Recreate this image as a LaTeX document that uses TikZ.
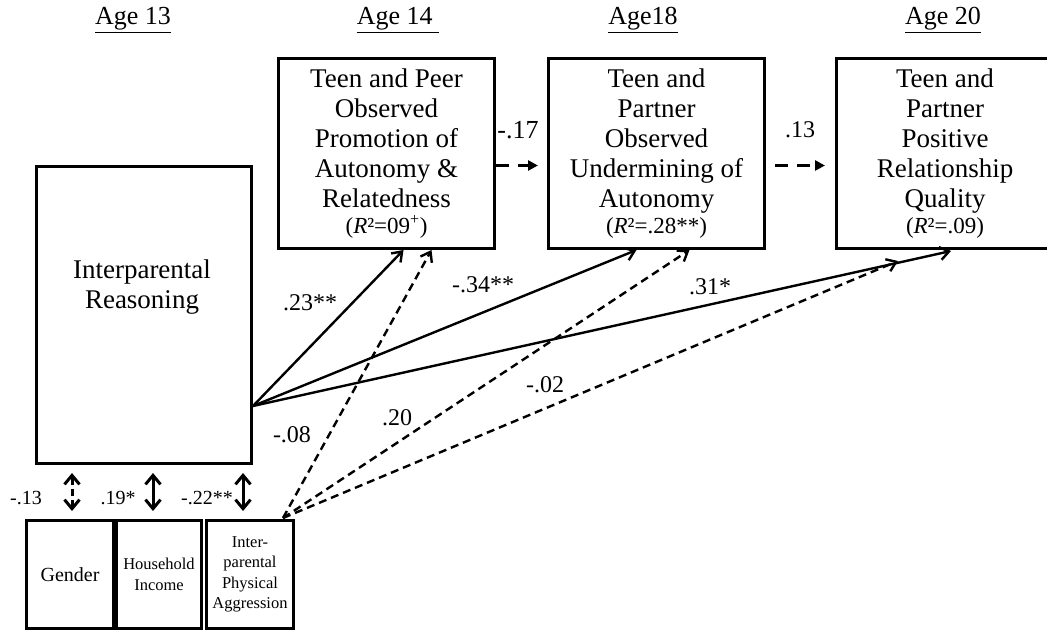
\documentclass[tikz,border=0pt]{standalone}
\usepackage{fontspec}
\setmainfont{Liberation Serif}
\usetikzlibrary{positioning,calc,arrows.meta}

\newcommand{\rsqfont}{\fontsize{23}{25}\selectfont}

\tikzset{
    box/.style={draw, line width=3pt, align=center, inner sep=0pt},
    bigtext/.style={font=\fontsize{27}{30}\selectfont},
    smalltext/.style={font=\fontsize{16.5}{20.5}\selectfont},
    coef/.style={font=\fontsize{24}{26}\selectfont},
    corr/.style={font=\fontsize{20}{22}\selectfont},
    eff/.style={line width=2.4pt, -{Straight Barb[length=9pt,width=13pt]}},
    effdash/.style={eff, dash pattern=on 8pt off 5pt},
    stab/.style={line width=2.6pt, dash pattern=on 13pt off 9pt, -{Triangle[length=10pt,width=10pt]}},
    dblarrow/.style={line width=3pt, {Straight Barb[length=9pt,width=15pt]}-{Straight Barb[length=9pt,width=15pt]}}
}

\begin{document}
\begin{tikzpicture}[x=1pt, y=-1pt]
    \useasboundingbox (0,0) rectangle (1047,631);

    % age headings
    \foreach \lab/\xx in {Age 13/133, Age 14\ /398, Age18/643, Age 20/943}
        \node[font=\fontsize{26}{28}\selectfont] (age\xx) at (\xx,20) {\underline{\lab}};

    % age 13
    \node[box, minimum width=215, minimum height=297, anchor=north west] (reason) at (35,165) {};
    \node[bigtext, align=center] (reasontxt) at (142,287) {Interparental\\Reasoning};

    \node[box, minimum width=87, minimum height=108, anchor=north west, font=\fontsize{20}{22}\selectfont] (gender) at (25,519) {Gender};
    \node[box, smalltext, minimum width=85, minimum height=108, anchor=north west] (income) at (115,519) {Household\\Income};
    \node[box, smalltext, minimum width=87, minimum height=108, anchor=north west] (aggr) at (205,519) {Inter-\\parental\\Physical\\Aggression};

    % outcomes
    \node[box, bigtext, minimum width=216, minimum height=190, anchor=north west] (peer) at (277,57)
        {Teen and Peer\\Observed\\Promotion of\\Autonomy \&\\Relatedness\\[-4pt]{\rsqfont(\textit{R}²=09\textsuperscript{+})}};
    \node[box, bigtext, minimum width=216, minimum height=190, anchor=north west] (partner) at (547,57)
        {Teen and\\Partner\\Observed\\Undermining of\\Autonomy\\[-4pt]{\rsqfont(\textit{R}²=.28**)}};
    \node[box, bigtext, minimum width=217, minimum height=190, anchor=north west] (quality) at (835,57)
        {Teen and\\Partner\\Positive\\Relationship\\Quality\\[-4pt]{\rsqfont(\textit{R}²=.09)}};

    % stability paths
    \draw[stab] ($(peer.east)+(0,12)$) -- ($(partner.west)+(-9,12)$);
    \draw[stab] ($(partner.east)+(9,12)$) -- ($(quality.west)+(-10,12)$);
    \node[font=\fontsize{26}{28}\selectfont] (c17) at (518,130) {-.17};
    \node[coef] (c13) at (800,130) {.13};

    % covariances
    \draw[dblarrow, dash pattern=on 7pt off 4pt] ($(gender.north)+(2,-8)$) -- ($(gender.north |- reason.south)+(2,8)$);
    \draw[dblarrow] ($(income.north)+(-6,-8)$) -- ($(income.north |- reason.south)+(-6,8)$);
    \draw[dblarrow] ($(aggr.north)+(-7,-8)$) -- ($(aggr.north |- reason.south)+(-7,8)$);
    \node[corr] (r13) at (26,498) {-.13};
    \node[corr] (r19) at (118,498) {.19*};
    \node[corr] (r22) at (207,498) {-.22**};

    % predictive paths
    \coordinate (reasonout) at ($(reason.south east)+(0,-59)$);
    \coordinate (aggrout) at ($(aggr.north east)+(-12,-1)$);
    \draw[eff] (reasonout) -- ($(peer.south)+(17,0)$);
    \draw[eff] (reasonout) -- ($(partner.south)+(-20,0)$);
    \draw[eff] (reasonout) -- ($(quality.south)+(6,1)$);
    \draw[effdash] (aggrout) -- ($(peer.south)+(45,0)$);
    \draw[effdash] (aggrout) -- ($(partner.south)+(33,0)$);
    \draw[effdash] (aggrout) -- ($(quality.south)+(-47,11)$);

    \node[coef] (p23) at (310,303) {.23**};
    \node[coef] (p34) at (483,285) {-.34**};
    \node[coef] (p31) at (710,287) {.31*};
    \node[coef] (p08) at (292,435) {-.08};
    \node[coef] (p20) at (397,418) {.20};
    \node[coef] (p02) at (545,385) {-.02};
\end{tikzpicture}
\end{document}
